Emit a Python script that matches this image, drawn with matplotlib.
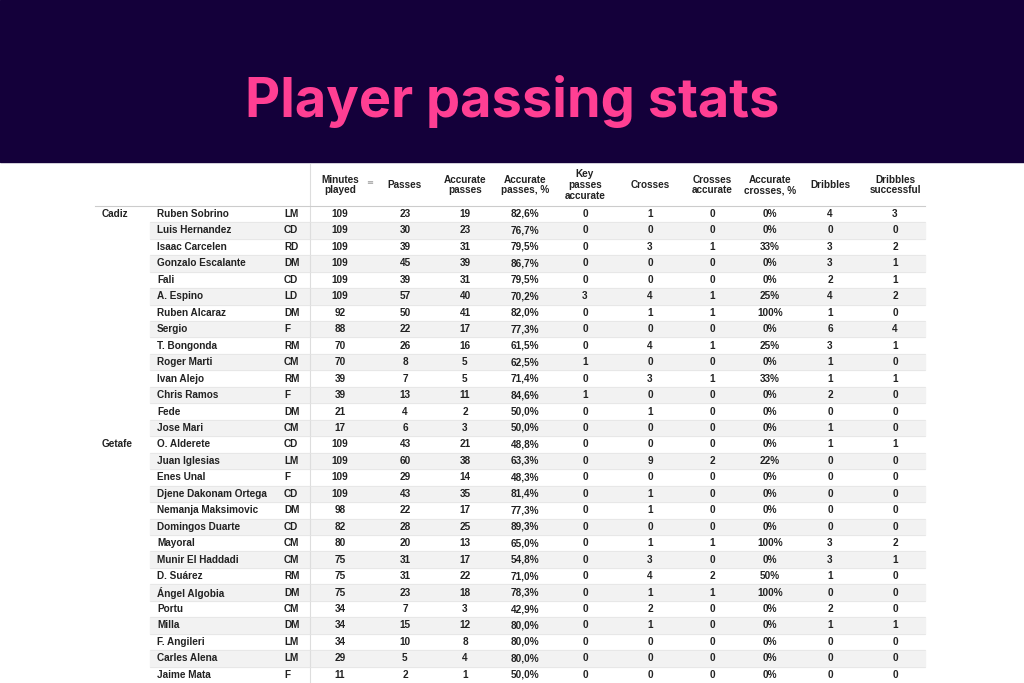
import matplotlib.pyplot as plt
from matplotlib.patches import Rectangle

teams = ["Cadiz"] + [""] * 13 + ["Getafe"] + [""] * 14
players = ["Ruben Sobrino", "Luis Hernandez", "Isaac Carcelen", "Gonzalo Escalante", "Fali",
           "A. Espino", "Ruben Alcaraz", "Sergio", "T. Bongonda", "Roger Marti", "Ivan Alejo",
           "Chris Ramos", "Fede", "Jose Mari",
           "O. Alderete", "Juan Iglesias", "Enes Unal", "Djene Dakonam Ortega",
           "Nemanja Maksimovic", "Domingos Duarte", "Mayoral", "Munir El Haddadi", "D. Suárez",
           "Ángel Algobia", "Portu", "Milla", "F. Angileri", "Carles Alena", "Jaime Mata"]
positions = ["LM", "CD", "RD", "DM", "CD", "LD", "DM", "F", "RM", "CM", "RM", "F", "DM", "CM",
             "CD", "LM", "F", "CD", "DM", "CD", "CM", "CM", "RM", "DM", "CM", "DM", "LM", "LM", "F"]
minutes = [109, 109, 109, 109, 109, 109, 92, 88, 70, 70, 39, 39, 21, 17,
           109, 109, 109, 109, 98, 82, 80, 75, 75, 75, 34, 34, 34, 29, 11]
passes = [23, 30, 39, 45, 39, 57, 50, 22, 26, 8, 7, 13, 4, 6,
          43, 60, 29, 43, 22, 28, 20, 31, 31, 23, 7, 15, 10, 5, 2]
acc_passes = [19, 23, 31, 39, 31, 40, 41, 17, 16, 5, 5, 11, 2, 3,
              21, 38, 14, 35, 17, 25, 13, 17, 22, 18, 3, 12, 8, 4, 1]
acc_pct = ["82,6%", "76,7%", "79,5%", "86,7%", "79,5%", "70,2%", "82,0%", "77,3%", "61,5%",
           "62,5%", "71,4%", "84,6%", "50,0%", "50,0%",
           "48,8%", "63,3%", "48,3%", "81,4%", "77,3%", "89,3%", "65,0%", "54,8%", "71,0%",
           "78,3%", "42,9%", "80,0%", "80,0%", "80,0%", "50,0%"]
key_passes = [0, 0, 0, 0, 0, 3, 0, 0, 0, 1, 0, 1, 0, 0,
              0, 0, 0, 0, 0, 0, 0, 0, 0, 0, 0, 0, 0, 0, 0]
crosses = [1, 0, 3, 0, 0, 4, 1, 0, 4, 0, 3, 0, 1, 0,
           0, 9, 0, 1, 1, 0, 1, 3, 4, 1, 2, 1, 0, 0, 0]
crosses_acc = [0, 0, 1, 0, 0, 1, 1, 0, 1, 0, 1, 0, 0, 0,
               0, 2, 0, 0, 0, 0, 1, 0, 2, 1, 0, 0, 0, 0, 0]
cross_pct = ["0%", "0%", "33%", "0%", "0%", "25%", "100%", "0%", "25%", "0%", "33%", "0%", "0%", "0%",
             "0%", "22%", "0%", "0%", "0%", "0%", "100%", "0%", "50%", "100%", "0%", "0%", "0%", "0%", "0%"]
dribbles = [4, 0, 3, 3, 2, 4, 1, 6, 3, 1, 1, 2, 0, 1,
            1, 0, 0, 0, 0, 0, 3, 3, 1, 0, 2, 1, 0, 0, 0]
dribbles_succ = [3, 0, 2, 1, 1, 2, 0, 4, 1, 0, 1, 0, 0, 0,
                 1, 0, 0, 0, 0, 0, 2, 1, 0, 0, 0, 1, 0, 0, 0]

headers = ["Minutes\nplayed", "Passes", "Accurate\npasses", "Accurate\npasses, %",
           "Key\npasses\naccurate", "Crosses", "Crosses\naccurate", "Accurate\ncrosses, %",
           "Dribbles", "Dribbles\nsuccessful"]
stat_cols = [minutes, passes, acc_passes, acc_pct, key_passes, crosses, crosses_acc,
             cross_pct, dribbles, dribbles_succ]
col_x = [340, 405, 465, 525, 585, 650, 712, 770, 830, 895]

W, H = 1024, 683
fig = plt.figure(figsize=(W / 100, H / 100), dpi=100)
ax = fig.add_axes([0, 0, 1, 1])
ax.set_xlim(0, W)
ax.set_ylim(H, 0)
ax.axis("off")

# banner
ax.add_patch(Rectangle((0, 0), W, 162, color="#14003a", zorder=0))
ax.text(W / 2, 101, "Player passing stats", color="#ff3f93", fontsize=39,
        fontweight="bold", family="Inter", ha="center", va="center")

font = dict(family="Liberation Sans", fontsize=7.2, fontweight="bold", color="#222222")
left, right = 95, 925
y0, dy = 214, 16.46
head_top, head_bot = 164, 206

ax.plot([310, 310], [head_top, H], color="#dddddd", lw=0.8)
ax.plot([left, right], [head_bot, head_bot], color="#cccccc", lw=0.8)
for c, h in zip(col_x, headers):
    ax.text(c, (head_top + head_bot) / 2, h, ha="center", va="center", linespacing=1.1, **font)
ax.text(370, 183, "≡", ha="center", va="center", fontsize=6, color="#999999")

for i in range(len(players)):
    y = y0 + i * dy
    if i % 2 == 1:
        ax.add_patch(Rectangle((150, y - dy / 2), right - 150, dy, color="#f2f2f2", zorder=0))
    ax.plot([150, right], [y + dy / 2, y + dy / 2], color="#e3e3e3", lw=0.5)
    if teams[i]:
        ax.text(102, y, teams[i], ha="left", va="center", **font)
    ax.text(157, y, players[i], ha="left", va="center", **font)
    ax.text(284, y, positions[i], ha="left", va="center", **font)
    for c, col in zip(col_x, stat_cols):
        ax.text(c, y, str(col[i]), ha="center", va="center", **font)

fig.savefig("out.png", dpi=100)
